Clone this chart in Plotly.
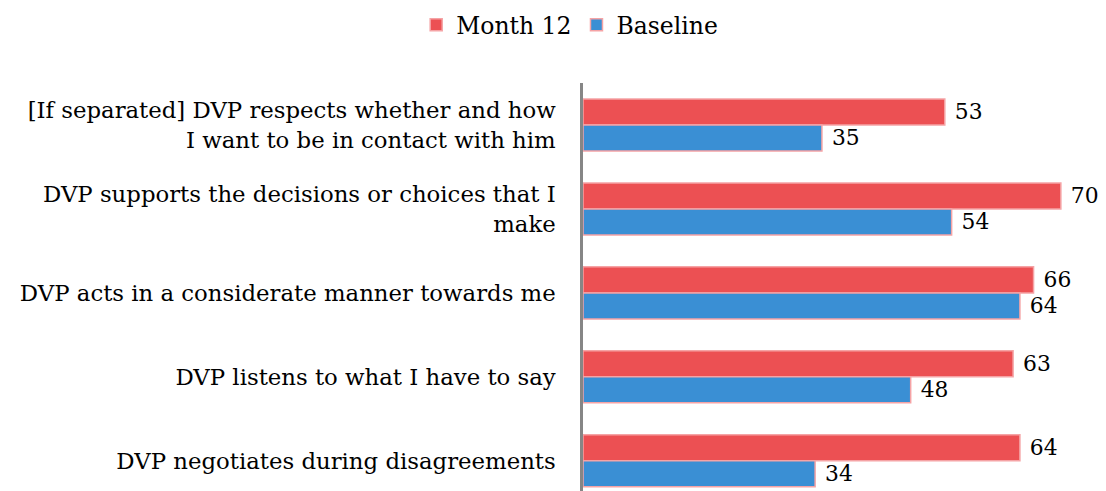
import plotly.graph_objects as go

categories = [
    "[If separated] DVP respects whether and how<br>I want to be in contact with him",
    "DVP supports the decisions or choices that I<br>make",
    "DVP acts in a considerate manner towards me",
    "DVP listens to what I have to say",
    "DVP negotiates during disagreements",
]
month12 = [53, 70, 66, 63, 64]
baseline = [35, 54, 64, 48, 34]

FONT = "DejaVu Serif"
FS = 23.5
TICK_FS = 22.8

fig = go.Figure()
fig.add_trace(go.Bar(
    name="Month 12", y=categories, x=month12, orientation="h",
    marker=dict(color="#EC5053", line=dict(color="#F5A3A5", width=1.5)),
    text=[str(v) for v in month12], texttemplate=" %{text}", textposition="outside",
    textfont=dict(family=FONT, size=FS, color="#000000"), cliponaxis=False,
))
fig.add_trace(go.Bar(
    name="Baseline", y=categories, x=baseline, orientation="h",
    marker=dict(color="#3A8FD4", line=dict(color="#F5A3A5", width=1.5)),
    text=[str(v) for v in baseline], texttemplate=" %{text}", textposition="outside",
    textfont=dict(family=FONT, size=FS, color="#000000"), cliponaxis=False,
))

fig.update_layout(
    width=1098, height=483,
    margin=dict(l=575, r=11, t=75, b=0, autoexpand=False),
    barmode="group", bargap=0.38, bargroupgap=0.0,
    plot_bgcolor="white", paper_bgcolor="white",
    font=dict(family=FONT, size=FS, color="#000000"),
    legend=dict(orientation="h", x=-0.026, xanchor="center", y=1.142, yanchor="middle",
                font=dict(family=FONT, size=FS), itemwidth=30, traceorder="normal"),
)
fig.update_xaxes(range=[0, 75], visible=False, showgrid=False, zeroline=False)
fig.update_yaxes(
    categoryorder="array", categoryarray=categories, automargin=False,
    range=[4.36, -0.5], showgrid=False, zeroline=False,
    showline=True, linecolor="#868686", linewidth=2.5, ticks="",
    ticklabelstandoff=20, tickfont=dict(family=FONT, size=TICK_FS),
)

fig.write_html("out.html")
